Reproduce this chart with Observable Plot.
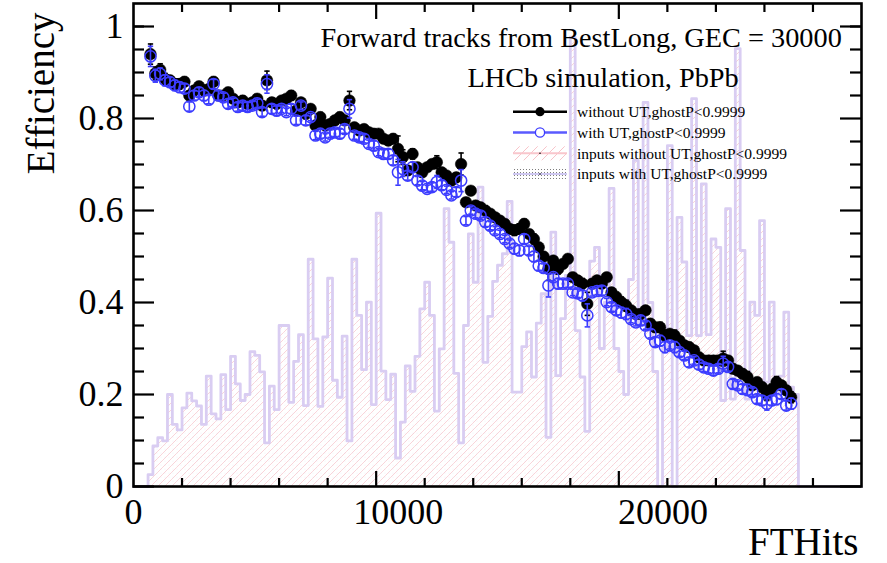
<!DOCTYPE html>
<html><head><meta charset="utf-8">
<script src="https://cdn.jsdelivr.net/npm/d3@7"></script>
<script src="https://cdn.jsdelivr.net/npm/@observablehq/plot@0.6"></script>
<style>
html,body{margin:0;padding:0;background:#fff;}
#chart{width:887px;height:563px;overflow:hidden;}
</style></head><body><div id="chart"></div>
<script>
// ---------------- data ----------------
const xRange = [0, 27500];
const nBins = 150;
const firstPointBin = 3;

// input distribution (scaled), one value per bin, 150 bins
const inputCounts = [
0,0,0,
0.026,0.088,0.106,0.099,0.200,0.135,0.123,0.171,0.203,0.186,
0.175,0.135,0.240,0.158,0.147,0.243,0.167,0.283,0.223,0.187,
0.200,0.293,0.285,0.249,0.095,0.218,0.167,0.350,0.350,0.183,
0.272,0.330,0.176,0.494,0.321,0.174,0.325,0.453,0.231,0.194,
0.327,0.099,0.494,0.372,0.254,0.401,0.178,0.594,0.251,0.189,
0.244,0.062,0.140,0.262,0.207,0.283,0.386,0.444,0.372,0.164,
0.299,0.604,0.531,0.246,0.095,0.350,0.549,0.444,0.651,0.270,
0.370,0.446,0.481,0.506,0.620,0.205,0.205,0.304,0.336,0.238,
0.355,0.419,0.107,0.553,0.241,0.365,0.459,0.977,0.339,0.238,
0.120,0.490,0.520,0.300,0.400,0.648,0.300,0.250,0.200,0.450,
0.709,0.350,0.835,0.400,0.250,0.000,0.300,0.741,0.000,0.585,
0.488,0.328,0.843,0.328,0.658,0.330,0.538,0.520,0.187,0.604,
0.190,0.952,0.513,0.190,0.401,0.372,0.578,0.227,0.401,0.200,
0.240,0.379,0.216,0.200,
0,0,0,0,0,0,0,0,0,0,0,0,0
];

// efficiency without UT (bins 3..135)
const effWithoutUT = [
0.940,0.898,0.906,0.886,0.883,0.875,0.875,0.880,0.850,0.861,
0.870,0.861,0.864,0.880,0.850,0.850,0.857,0.843,0.835,0.839,
0.832,0.835,0.843,0.828,0.883,0.835,0.832,0.839,0.843,0.850,
0.817,0.835,0.810,0.821,0.785,0.803,0.785,0.788,0.796,0.803,
0.796,0.839,0.781,0.774,0.777,0.770,0.767,0.767,0.756,0.752,
0.756,0.734,0.716,0.687,0.723,0.694,0.683,0.694,0.701,0.705,
0.683,0.676,0.665,0.672,0.701,0.618,0.643,0.611,0.607,0.600,
0.593,0.585,0.578,0.571,0.560,0.557,0.560,0.571,0.549,0.538,
0.520,0.500,0.473,0.491,0.473,0.484,0.495,0.455,0.448,0.441,
0.397,0.441,0.448,0.441,0.455,0.422,0.412,0.401,0.393,0.383,
0.375,0.375,0.383,0.354,0.346,0.346,0.328,0.332,0.328,0.317,
0.307,0.303,0.296,0.281,0.274,0.274,0.274,0.274,0.278,0.274,
0.256,0.252,0.245,0.238,0.220,0.227,0.216,0.201,0.212,0.227,
0.220,0.209,0.194
];

// efficiency with UT (bins 3..135)
const effWithUT = [
0.935,0.893,0.897,0.883,0.879,0.872,0.868,0.865,0.826,0.850,
0.857,0.850,0.841,0.875,0.850,0.846,0.832,0.835,0.825,0.828,
0.825,0.828,0.833,0.814,0.875,0.821,0.817,0.821,0.814,0.821,
0.796,0.828,0.796,0.803,0.763,0.767,0.759,0.767,0.770,0.767,
0.777,0.821,0.763,0.759,0.756,0.745,0.741,0.727,0.723,0.723,
0.709,0.683,0.690,0.676,0.694,0.665,0.654,0.647,0.651,0.662,
0.655,0.645,0.633,0.640,0.665,0.578,0.600,0.593,0.589,0.575,
0.567,0.557,0.549,0.538,0.528,0.517,0.513,0.538,0.513,0.500,
0.480,0.475,0.437,0.455,0.441,0.441,0.441,0.422,0.420,0.415,
0.372,0.422,0.425,0.426,0.401,0.390,0.383,0.378,0.375,0.364,
0.357,0.361,0.350,0.332,0.314,0.317,0.303,0.307,0.303,0.292,
0.285,0.270,0.274,0.265,0.259,0.256,0.252,0.256,0.267,0.260,
0.223,0.220,0.212,0.210,0.205,0.190,0.187,0.180,0.187,0.190,
0.201,0.176,0.180
];

// statistical uncertainty per point (bins 3..135)
const effErr = [
0.022,0.014,0.013,0.012,0.010,0.011,0.011,0.010,0.010,0.010,
0.010,0.011,0.009,0.010,0.010,0.009,0.010,0.009,0.009,0.010,
0.010,0.009,0.009,0.009,0.020,0.010,0.010,0.008,0.008,0.010,
0.009,0.008,0.010,0.008,0.009,0.010,0.008,0.008,0.009,0.010,
0.009,0.020,0.008,0.009,0.009,0.008,0.010,0.008,0.009,0.010,
0.010,0.028,0.016,0.010,0.011,0.009,0.009,0.008,0.009,0.014,
0.010,0.008,0.008,0.010,0.024,0.009,0.008,0.009,0.008,0.010,
0.009,0.008,0.008,0.008,0.008,0.011,0.011,0.010,0.009,0.011,
0.010,0.009,0.025,0.008,0.011,0.009,0.008,0.007,0.009,0.011,
0.025,0.008,0.008,0.010,0.008,0.009,0.010,0.011,0.012,0.008,
0.008,0.010,0.008,0.009,0.010,0.011,0.012,0.008,0.012,0.009,
0.009,0.010,0.008,0.010,0.009,0.009,0.010,0.009,0.016,0.009,
0.010,0.008,0.010,0.012,0.009,0.009,0.010,0.014,0.010,0.012,
0.010,0.010,0.012
];

const yDomain = [0, 1.05];
const yTicksMajor = [0, 0.2, 0.4, 0.6, 0.8, 1];
const yTickLabels = ["0", "0.2", "0.4", "0.6", "0.8", "1"];
const yTicksMinor = [0.05,0.1,0.15,0.25,0.3,0.35,0.45,0.5,0.55,0.65,0.7,0.75,0.85,0.9,0.95,1.0];
const xTickLabelValues = [0, 10000, 20000];
const xTickLabels = ["0", "10000", "20000"];
const xTickDivisions = 15;   // secondary ticks
const xTickPrimaryEvery = 5;

const headerLines = ["Forward tracks from BestLong, GEC = 30000", "LHCb simulation, PbPb"];
const legendLabels = ["without UT,ghostP<0.9999", "with UT,ghostP<0.9999",
  "inputs without UT,ghostP<0.9999", "inputs with UT,ghostP<0.9999"];
const xTitle = "FTHits";
const yTitle = "Efficiency";

// ---------------- layout ----------------
const W = 887, H = 563;
const mL = 133, mR = 26, mT = 3, mB = 77;
const fw = W - mL - mR, fh = H - mT - mB;
const FONT = "Liberation Serif, Times New Roman, serif";
const BLUE = "#3c3cff";
const HISTLINE = "#d9cdf2";

const binW = (xRange[1] - xRange[0]) / nBins;
const bins = inputCounts.map((h, k) => ({x1: xRange[0] + k * binW, x2: xRange[0] + (k + 1) * binW, h}));
const steps = bins.map(b => ({x: b.x1, y: b.h}));
steps.push({x: xRange[1], y: 0});
const mkPts = arr => arr.map((v, i) => ({x: xRange[0] + (firstPointBin + i + 0.5) * binW, v, e: effErr[i]}));
const ptsNo = mkPts(effWithoutUT);
const ptsUT = mkPts(effWithUT);

const xTicksAll = d3.range(1, xTickDivisions).map(i => xRange[0] + i * (xRange[1] - xRange[0]) / xTickDivisions);
const xTicksMajor = xTicksAll.filter((d, i) => (i + 1) % xTickPrimaryEvery === 0);
const xTicksMinor = xTicksAll.filter((d, i) => (i + 1) % xTickPrimaryEvery !== 0);

const capSymbol = {draw(ctx, size) { const w = Math.sqrt(size); ctx.moveTo(-w, 0); ctx.lineTo(w, 0); }};

function errMarks(pts, color) {
  return [
    Plot.ruleX(pts, {x: "x", y1: d => d.v - d.e, y2: d => d.v + d.e, stroke: color, strokeWidth: 1.6}),
    Plot.dot(pts, {x: "x", y: d => d.v + d.e, symbol: capSymbol, r: 1.5, stroke: color, strokeWidth: 1.6, fill: "none"}),
    Plot.dot(pts, {x: "x", y: d => d.v - d.e, symbol: capSymbol, r: 1.5, stroke: color, strokeWidth: 1.6, fill: "none"})
  ];
}

const svg = Plot.plot({
  width: W, height: H,
  marginLeft: mL, marginRight: mR, marginTop: mT, marginBottom: mB,
  x: {domain: xRange, axis: null},
  y: {domain: yDomain, axis: null},
  style: {fontFamily: FONT, background: "white", color: "black", overflow: "visible"},
  marks: [
    Plot.rectY(bins, {x1: "x1", x2: "x2", y: "h", fill: "url(#hatchFill)"}),
    Plot.rectY(bins, {x1: "x1", x2: "x2", y: "h", fill: "url(#dotFill)"}),
    Plot.line(steps, {x: "x", y: "y", curve: "step-after", stroke: HISTLINE, strokeWidth: 2.8}),
    ...errMarks(ptsNo, "black"),
    Plot.dot(ptsNo, {x: "x", y: "v", r: 5.8, fill: "black", stroke: "black", strokeWidth: 0.5}),
    ...errMarks(ptsUT, BLUE),
    Plot.dot(ptsUT, {x: "x", y: "v", r: 5.6, fill: "none", stroke: BLUE, strokeWidth: 1.5}),
    // frame and ticks
    Plot.frame({stroke: "black", strokeWidth: 2.6}),
    Plot.tickY(yTicksMajor, {y: d => d, insetRight: fw - 21, stroke: "black", strokeWidth: 2.2}),
    Plot.tickY(yTicksMinor, {y: d => d, insetRight: fw - 11, stroke: "black", strokeWidth: 2.2}),
    Plot.tickY(yTicksMajor, {y: d => d, insetLeft: fw - 21, stroke: "black", strokeWidth: 2.2}),
    Plot.tickY(yTicksMinor, {y: d => d, insetLeft: fw - 11, stroke: "black", strokeWidth: 2.2}),
    Plot.tickX(xTicksMajor, {x: d => d, insetTop: fh - 15, stroke: "black", strokeWidth: 2.2}),
    Plot.tickX(xTicksMinor, {x: d => d, insetTop: fh - 8, stroke: "black", strokeWidth: 2.2}),
    Plot.tickX(xTicksMajor, {x: d => d, insetBottom: fh - 16, stroke: "black", strokeWidth: 2.2}),
    Plot.tickX(xTicksMinor, {x: d => d, insetBottom: fh - 9, stroke: "black", strokeWidth: 2.2}),
    // tick labels
    Plot.text(yTickLabels, {y: (d, i) => yTicksMajor[i], text: d => d, frameAnchor: "left", textAnchor: "end", dx: -10, fontSize: 36, fill: "black"}),
    Plot.text(xTickLabels, {x: (d, i) => xTickLabelValues[i], text: d => d, frameAnchor: "bottom", lineAnchor: "top", dy: 12, fontSize: 36, fill: "black"}),
    // axis titles
    Plot.text([xTitle], {text: d => d, frameAnchor: "bottom-right", textAnchor: "end", lineAnchor: "bottom", dx: -3, dy: 68, fontSize: 39, fill: "black"}),
    Plot.text([yTitle], {text: d => d, frameAnchor: "top-left", textAnchor: "end", rotate: -90, dx: -107, dy: 9, fontSize: 39, fill: "black"}),
    // header
    Plot.text([headerLines[0]], {text: d => d, frameAnchor: "top-left", textAnchor: "start", lineAnchor: "bottom", dx: 187, dy: 43, fontSize: 28.3, fill: "black"}),
    Plot.text([headerLines[1]], {text: d => d, frameAnchor: "top-left", textAnchor: "start", lineAnchor: "bottom", dx: 334, dy: 83, fontSize: 28.3, fill: "black"})
  ]
});

// patterns
const s = d3.select(svg);
const defs = s.insert("defs", ":first-child");
const hp = defs.append("pattern").attr("id", "hatchFill").attr("patternUnits", "userSpaceOnUse").attr("width", 7).attr("height", 7);
hp.append("path").attr("d", "M-1,1 l2,-2 M0,7 l7,-7 M6,8 l2,-2").attr("stroke", "#f7c9cf").attr("stroke-width", 0.8).attr("fill", "none");
const dp = defs.append("pattern").attr("id", "dotFill").attr("patternUnits", "userSpaceOnUse").attr("width", 4).attr("height", 4);
dp.append("circle").attr("cx", 1).attr("cy", 1).attr("r", 0.35).attr("fill", "#c9c2dc");
const hl = defs.append("pattern").attr("id", "hatchLeg").attr("patternUnits", "userSpaceOnUse").attr("width", 9).attr("height", 9);
hl.append("path").attr("d", "M-1,1 l2,-2 M0,9 l9,-9 M8,10 l2,-2").attr("stroke", "#f8c3c9").attr("stroke-width", 1).attr("fill", "none");
const dl = defs.append("pattern").attr("id", "dotLeg").attr("patternUnits", "userSpaceOnUse").attr("width", 3).attr("height", 3);
dl.append("rect").attr("x", 1).attr("y", 1).attr("width", 0.8).attr("height", 0.8).attr("fill", "#333");

// legend
const leg = s.append("g").attr("font-family", FONT).attr("font-size", 15.5).attr("text-anchor", "start");
const rowY = [111.7, 132.5, 153.3, 174];
const sx0 = 513, sx1 = 567, sxc = 540, tx = 577;
// row 1
leg.append("line").attr("x1", sx0).attr("x2", sx1).attr("y1", rowY[0]).attr("y2", rowY[0]).attr("stroke", "black").attr("stroke-width", 2.4);
leg.append("circle").attr("cx", sxc).attr("cy", rowY[0]).attr("r", 4.6).attr("fill", "black");
// row 2
leg.append("line").attr("x1", sx0).attr("x2", sx1).attr("y1", rowY[1]).attr("y2", rowY[1]).attr("stroke", "#5a5aff").attr("stroke-width", 2.4);
leg.append("circle").attr("cx", sxc).attr("cy", rowY[1]).attr("r", 4.6).attr("fill", "white").attr("stroke", BLUE).attr("stroke-width", 1.3);
// row 3
leg.append("rect").attr("x", sx0).attr("y", rowY[2] - 7).attr("width", sx1 - sx0).attr("height", 14).attr("fill", "url(#hatchLeg)");
leg.append("line").attr("x1", sx0).attr("x2", sx1).attr("y1", rowY[2]).attr("y2", rowY[2]).attr("stroke", "#f9c6cc").attr("stroke-width", 2);
leg.append("circle").attr("cx", sxc).attr("cy", rowY[2]).attr("r", 0.8).attr("fill", "black");
// row 4
leg.append("rect").attr("x", sx0).attr("y", rowY[3] - 7).attr("width", sx1 - sx0).attr("height", 14).attr("fill", "url(#dotLeg)");
leg.append("line").attr("x1", sx0).attr("x2", sx1).attr("y1", rowY[3]).attr("y2", rowY[3]).attr("stroke", "#cfc8f2").attr("stroke-width", 2);
leg.append("circle").attr("cx", sxc).attr("cy", rowY[3]).attr("r", 0.8).attr("fill", "black");
legendLabels.forEach((t, i) => {
  leg.append("text").attr("x", tx).attr("y", rowY[i] + 5.2).attr("fill", "black").attr("text-anchor", "start").text(t);
});

document.getElementById("chart").appendChild(svg);
</script>
</body></html>
